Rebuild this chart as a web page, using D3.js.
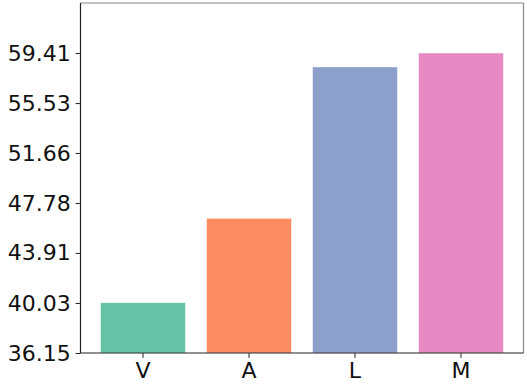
<!DOCTYPE html>
<html><head><meta charset="utf-8">
<script src="https://cdn.jsdelivr.net/npm/d3@7"></script>
<style>body{margin:0;background:#fff}svg{display:block}</style>
</head><body>
<script>
const categories = ["V", "A", "L", "M"];
const values = [40.05, 46.59, 58.33, 59.41];
const colors = ["#66c2a5", "#fc8d62", "#8da0cb", "#e78ac3"];
const yTickLabels = ["36.15", "40.03", "43.91", "47.78", "51.66", "55.53", "59.41"];
const yMin = 36.15, yMax = 63.29;

const W = 527, H = 387;
const m = {left: 80.5, right: 3.5, top: 3, bottom: 34};
const svg = d3.select("body").append("svg").attr("width", W).attr("height", H);

const x = d3.scaleBand().domain(categories).range([m.left, W - m.right])
  .paddingInner(0.2).paddingOuter(0.19);
const y = d3.scaleLinear().domain([yMin, yMax]).range([H - m.bottom, m.top]);

svg.selectAll("rect.bar").data(values).join("rect").attr("class", "bar")
  .attr("x", (d, i) => x(categories[i]))
  .attr("width", x.bandwidth())
  .attr("y", d => y(d))
  .attr("height", d => y(yMin) - y(d))
  .attr("fill", (d, i) => colors[i])
  .attr("stroke", "rgba(255,255,255,0.5)")
  .attr("stroke-width", 0.8);

// top and right spines (gray)
svg.append("line").attr("x1", m.left).attr("x2", W - m.right).attr("y1", m.top).attr("y2", m.top)
  .attr("stroke", "#888").attr("stroke-width", 1.2);
svg.append("line").attr("x1", W - m.right).attr("x2", W - m.right).attr("y1", m.top).attr("y2", H - m.bottom)
  .attr("stroke", "#888").attr("stroke-width", 1.2);

const yAxis = d3.axisLeft(y).tickValues(yTickLabels.map(Number))
  .tickFormat((d, i) => yTickLabels[i]).tickSize(4.9).tickPadding(4.9);
const gy = svg.append("g").attr("transform", `translate(${m.left},0)`).call(yAxis);

const xAxis = d3.axisBottom(x).tickSize(4.9).tickPadding(4.9);
const gx = svg.append("g").attr("transform", `translate(0,${H - m.bottom})`).call(xAxis);

[gy, gx].forEach(g => {
  g.select(".domain").attr("stroke", "#222").attr("stroke-width", 1.2);
  g.selectAll(".tick line").attr("stroke", "#222").attr("stroke-width", 1);
  g.selectAll(".tick text").attr("fill", "#111")
    .style("font-family", "'DejaVu Sans', sans-serif").style("font-size", "22px");
});
gx.select(".domain").attr("d", `M${m.left},0H${W - m.right}`);
gy.select(".domain").attr("d", `M0,${m.top}V${H - m.bottom}`);
</script>
</body></html>
